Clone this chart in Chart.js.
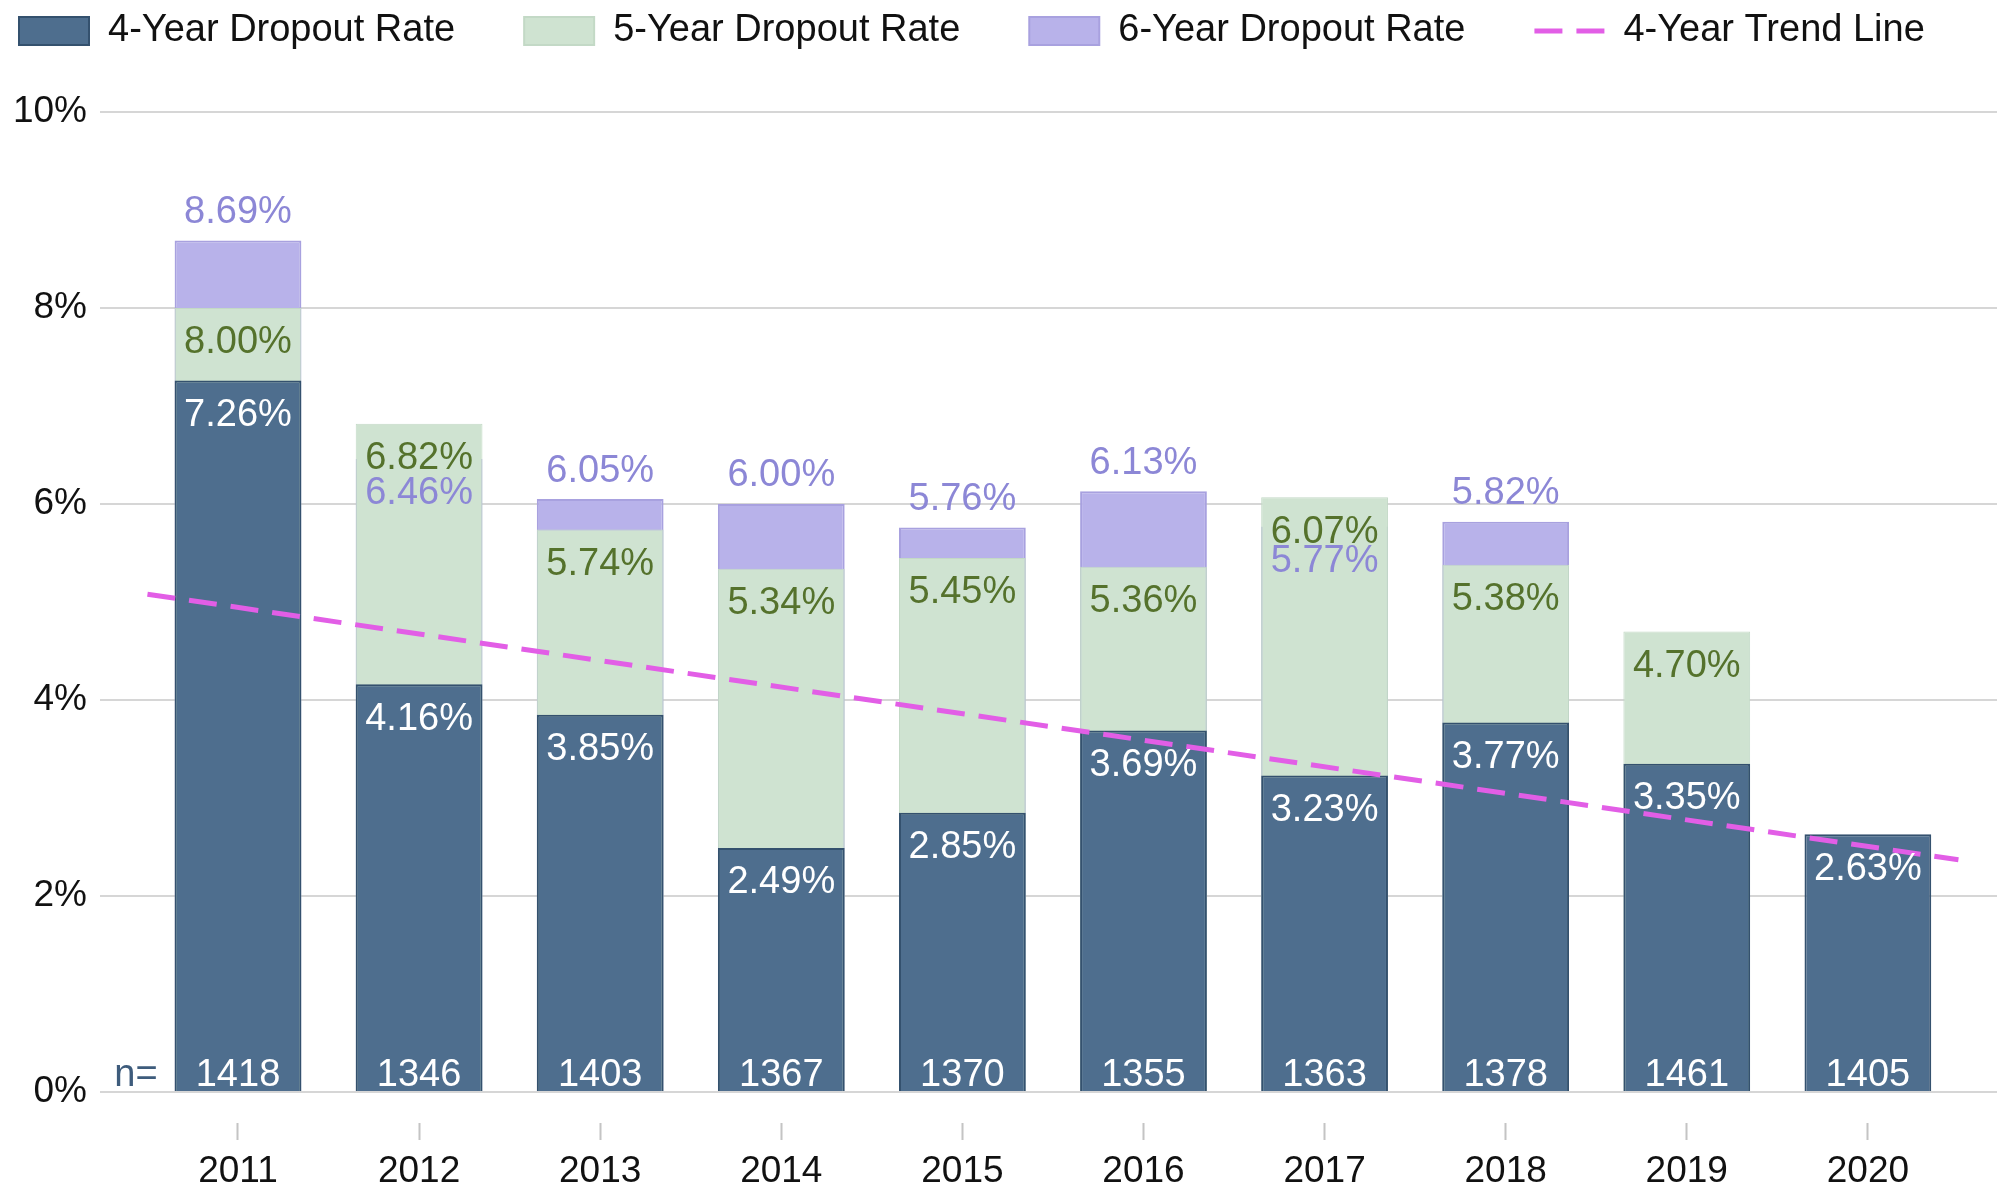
<!DOCTYPE html>
<html lang="en">
<head>
<meta charset="UTF-8">
<title>Dropout Rates by Entering Cohort</title>
<script src="https://cdn.jsdelivr.net/npm/chart.js@4.4.1/dist/chart.umd.min.js"></script>
<style>
  html, body { margin: 0; padding: 0; background: #fff; }
  #wrap { width: 1997px; height: 1197px; }
</style>
</head>
<body>
<div id="wrap"><canvas id="myChart" width="1997" height="1197"></canvas></div>

<script>
    // data
    var years = [2011, 2012, 2013, 2014, 2015, 2016, 2017, 2018, 2019, 2020];
    var rate4 = [7.26, 4.16, 3.85, 2.49, 2.85, 3.69, 3.23, 3.77, 3.35, 2.63];
    var rate5 = [8.00, 6.82, 5.74, 5.34, 5.45, 5.36, 6.07, 5.38, 4.70, null];
    var rate6 = [8.69, 6.46, 6.05, 6.00, 5.76, 6.13, 5.77, 5.82, null, null];
    var cohortN = [1418, 1346, 1403, 1367, 1370, 1355, 1363, 1378, 1461, 1405];
    var trendYears = [2010.5, 2020.5];
    var trendRates = [5.08, 2.37];

    var FONT = '"Liberation Sans", Arial, Helvetica, sans-serif';
    Chart.defaults.font.family = FONT;

    function points(xs, ys) {
        return xs.map(function (x, i) { return { x: x, y: ys[i] }; });
    }

    // value labels drawn on the bars, plus the n= row
    var barLabels = {
        id: 'barLabels',
        afterDatasetsDraw: function (chart) {
            var ctx = chart.ctx;
            var base = chart.scales.y.getPixelForValue(0);
            ctx.save();
            ctx.font = '38px ' + FONT;
            ctx.textAlign = 'center';
            ctx.textBaseline = 'middle';

            var colors = ['#ffffff', '#55722c', '#8c87d6'];
            [2, 1, 0].forEach(function (di) {
                var meta = chart.getDatasetMeta(di);
                meta.data.forEach(function (el, j) {
                    var v = meta.controller.getParsed(j).y;
                    if (v === null || v === undefined) return;
                    var y = el.y + 35;
                    // 6-year label sits above its bar unless the 5-year bar covers it
                    if (di === 2 && (rate5[j] === null || v > rate5[j])) y = el.y - 28;
                    ctx.fillStyle = colors[di];
                    ctx.fillText(v.toFixed(2) + '%', el.x, y);
                });
            });

            var meta4 = chart.getDatasetMeta(0);
            ctx.fillStyle = '#ffffff';
            meta4.data.forEach(function (el, j) {
                ctx.fillText(String(cohortN[j]), el.x, base - 16);
            });
            ctx.fillStyle = '#3e5c7c';
            ctx.fillText('n=', meta4.data[0].x - 102, base - 16);
            ctx.restore();
        }
    };

    var ctx = document.getElementById('myChart').getContext('2d');
    var myChart = new Chart(ctx, {
        type: 'bar',
        data: {
            datasets: [
                {
                    label: '4-Year Dropout Rate',
                    data: points(years, rate4),
                    backgroundColor: '#4e6e8e',
                    borderColor: '#34516e',
                    borderWidth: 2,
                    grouped: false,
                    barPercentage: 0.7,
                    categoryPercentage: 1,
                    order: 1
                },
                {
                    label: '5-Year Dropout Rate',
                    data: points(years, rate5),
                    backgroundColor: '#cfe3d1',
                    borderColor: '#c3d9c6',
                    borderWidth: 1,
                    grouped: false,
                    barPercentage: 0.7,
                    categoryPercentage: 1,
                    order: 1
                },
                {
                    label: '6-Year Dropout Rate',
                    data: points(years, rate6),
                    backgroundColor: '#b8b2ea',
                    borderColor: '#a8a1df',
                    borderWidth: 2,
                    grouped: false,
                    barPercentage: 0.7,
                    categoryPercentage: 1,
                    order: 1
                },
                {
                    label: '4-Year Trend Line',
                    type: 'line',
                    data: points(trendYears, trendRates),
                    borderColor: '#e25ee6',
                    backgroundColor: '#e25ee6',
                    borderWidth: 5,
                    borderDash: [28, 14],
                    pointRadius: 0,
                    fill: false,
                    order: 0
                }
            ]
        },
        options: {
            responsive: false,
            animation: false,
            layout: { padding: { left: -50, top: -57, right: -30, bottom: 0 } },
            plugins: {
                tooltip: { enabled: false },
                // empty title used only as a spacer under the legend
                title: {
                    display: true,
                    text: '',
                    weight: 500,
                    font: { size: 10, lineHeight: 1 },
                    padding: { top: 0, bottom: 42 }
                },
                legend: {
                    position: 'top',
                    align: 'start',
                    labels: {
                        usePointStyle: true,
                        pointStyleWidth: 70,
                        boxHeight: 28,
                        padding: 69,
                        color: '#111',
                        font: { size: 38 },
                        generateLabels: function (chart) {
                            return chart.data.datasets.map(function (ds, i) {
                                var isLine = ds.type === 'line';
                                return {
                                    text: ds.label,
                                    fillStyle: ds.backgroundColor,
                                    strokeStyle: ds.borderColor,
                                    lineWidth: isLine ? 5 : 2,
                                    lineDash: ds.borderDash || [],
                                    pointStyle: isLine ? 'line' : 'rect',
                                    fontColor: '#111',
                                    hidden: false,
                                    datasetIndex: i
                                };
                            });
                        }
                    }
                }
            },
            scales: {
                x: {
                    type: 'linear',
                    offset: false,
                    min: 2010.238,
                    max: 2020.713,
                    afterFit: function (s) { s.height = 105; },
                    afterBuildTicks: function (s) {
                        s.ticks = s.ticks.filter(function (t) {
                            return Number.isInteger(t.value) && t.value >= years[0] && t.value <= years[years.length - 1];
                        });
                    },
                    grid: {
                        offset: false,
                        drawOnChartArea: false,
                        drawTicks: true,
                        tickLength: 48,
                        tickColor: '#c4c4c4',
                        tickWidth: 2,
                        tickBorderDash: [0, 31, 17, 1000]
                    },
                    border: { display: false },
                    ticks: {
                        stepSize: 1,
                        includeBounds: false,
                        autoSkip: false,
                        maxRotation: 0,
                        padding: 10,
                        color: '#111',
                        font: { size: 37 },
                        callback: function (v) { return String(v); }
                    }
                },
                y: {
                    min: 0,
                    max: 10,
                    afterFit: function (s) { s.width = 150; },
                    grid: { color: '#d6d6d6', lineWidth: 2, drawTicks: false },
                    border: { display: false },
                    ticks: {
                        stepSize: 2,
                        padding: 13,
                        color: '#111',
                        font: { size: 37 },
                        callback: function (v) { return v + '%'; }
                    }
                }
            }
        },
        plugins: [barLabels]
    });
</script>
</body>
</html>
